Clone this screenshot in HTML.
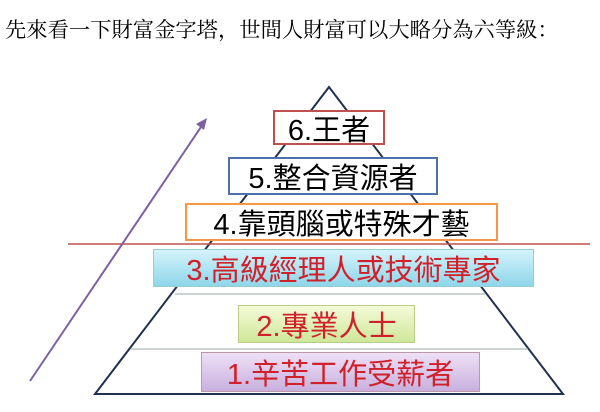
<!DOCTYPE html>
<html><head><meta charset="utf-8"><style>
body{margin:0;width:600px;height:412px;background:#fff;overflow:hidden;position:relative;font-family:"Liberation Sans","Noto Sans CJK TC",sans-serif}
.t{position:absolute;left:5px;top:13px;font-family:"Liberation Serif","Noto Serif CJK SC",serif;font-size:21.3px;white-space:nowrap;color:#000}
.b{position:absolute;box-sizing:border-box;display:flex;align-items:center;justify-content:center;white-space:nowrap;font-size:29px;background:#fff}
</style></head><body>
<div class="t">先來看一下財富金字塔，世間人財富可以大略分為六等級：</div>
<svg width="600" height="412" style="position:absolute;left:0;top:0">
<polygon points="329,87 95,394 563,394" fill="none" stroke="#1f3050" stroke-width="2"/>
<line x1="175" y1="294" x2="486" y2="294" stroke="#9aa" stroke-width="1"/>
<line x1="131" y1="349" x2="528" y2="349" stroke="#9aa" stroke-width="1"/>
<line x1="68" y1="244" x2="590" y2="244" stroke="#c0504d" stroke-width="1.5"/>
<line x1="30" y1="381" x2="203" y2="124" stroke="#7b62a3" stroke-width="2"/>
<polygon points="207,118 196,124 204,130" fill="#7b62a3"/>
</svg>
<div class="b" style="left:273px;top:110px;width:112px;height:35px;border:2px solid #c0504d">6.王者</div>
<div class="b" style="left:228px;top:157px;width:210px;height:38px;border:2px solid #4f6fa8">5.整合資源者</div>
<div class="b" style="left:185px;top:203px;width:313px;height:38px;border:2px solid #f79646">4.靠頭腦或特殊才藝</div>
<div class="b" style="left:153px;top:249px;width:381px;height:38px;border:1px solid #9cc;color:#d0202a;background:linear-gradient(#d4f3fb,#8ed6ea)">3.高級經理人或技術專家</div>
<div class="b" style="left:238px;top:305px;width:177px;height:38px;border:1px solid #bc8;color:#d0202a;background:linear-gradient(#f4fbd8,#cfe79a)">2.專業人士</div>
<div class="b" style="left:201px;top:352px;width:279px;height:40px;border:1px solid #b9a;color:#d0202a;background:linear-gradient(#eee0f6,#c9b0de)">1.辛苦工作受薪者</div>
</body></html>
